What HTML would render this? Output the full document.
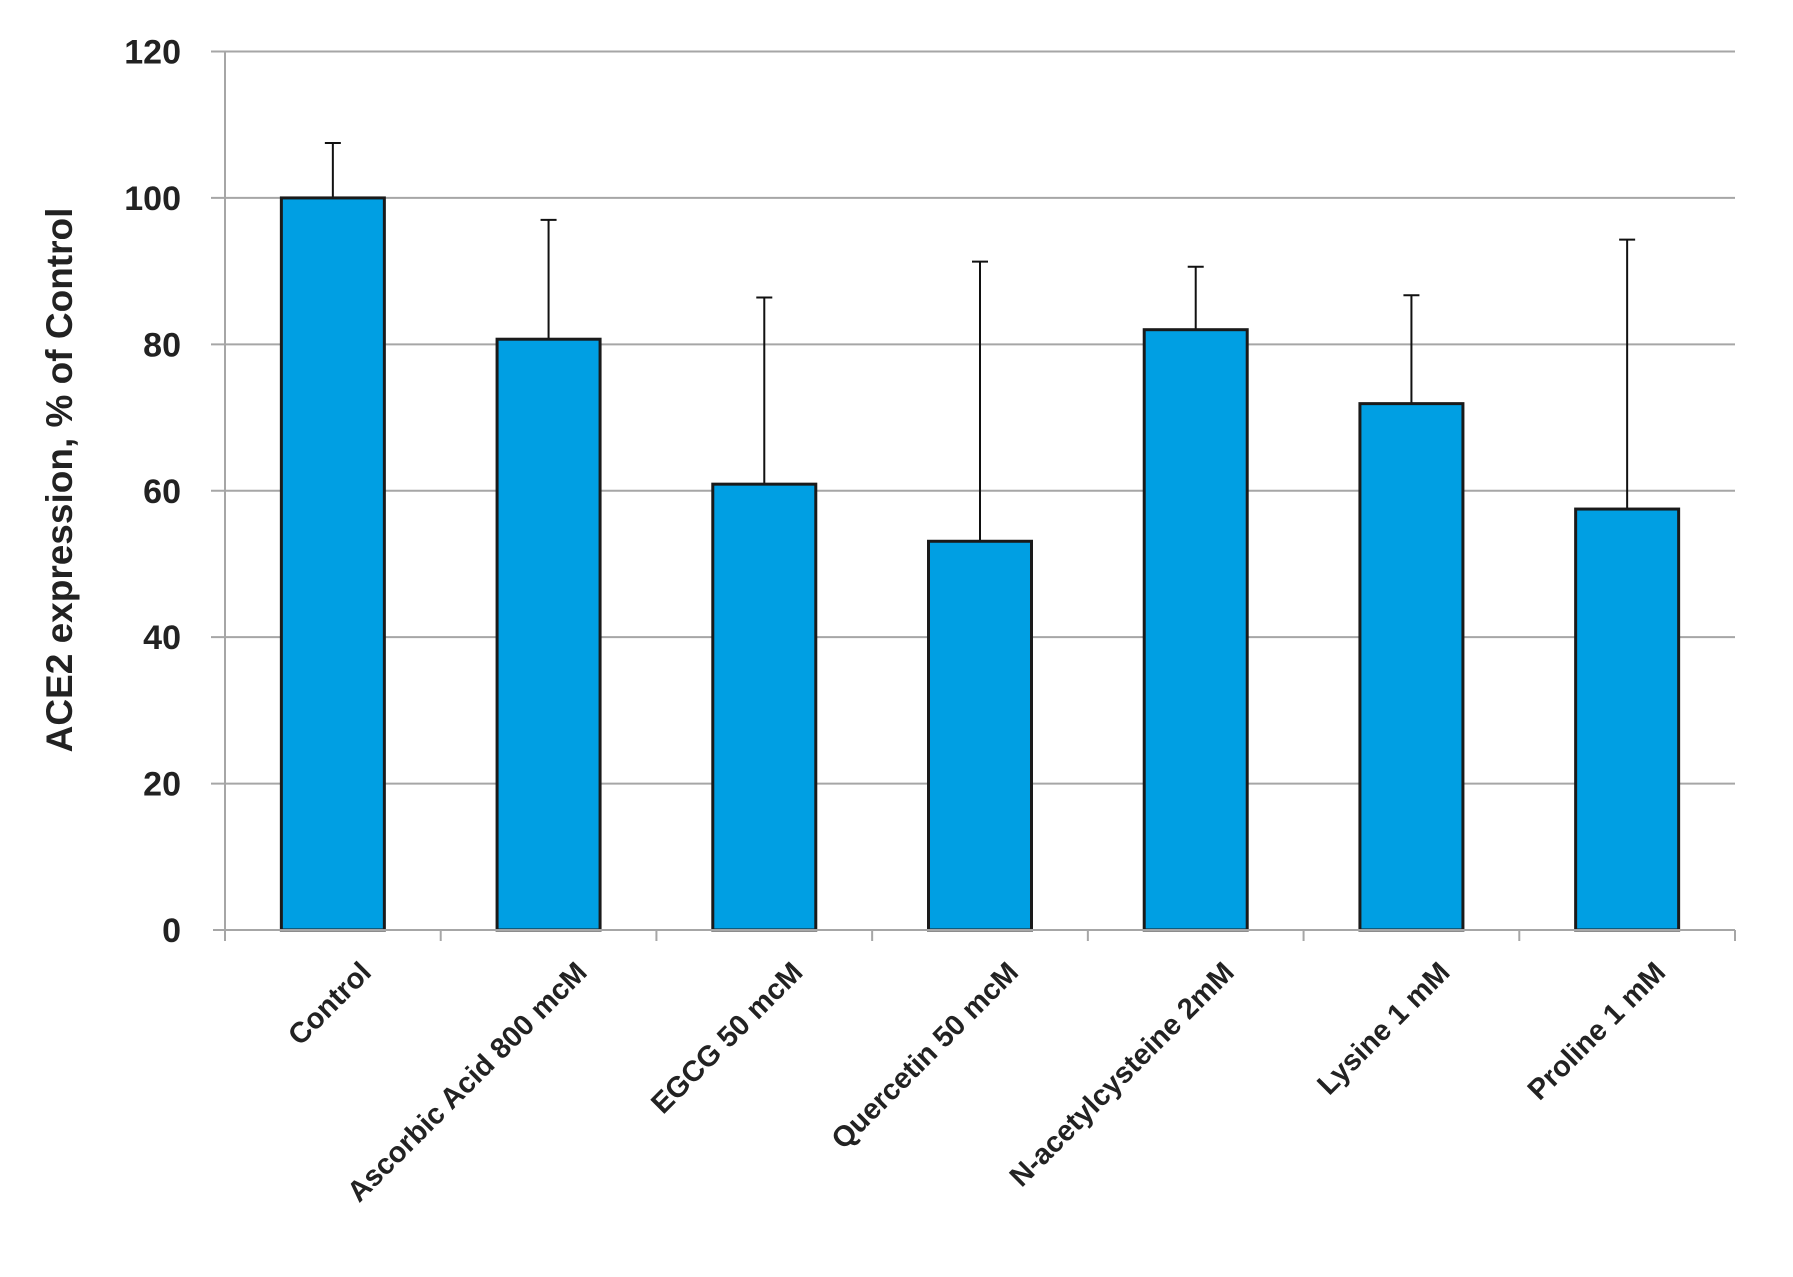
<!DOCTYPE html>
<html><head><meta charset="utf-8"><style>
body{margin:0;background:#fff}
svg{display:block;font-family:"Liberation Sans",sans-serif}
</style></head><body>
<svg id="c" width="1793" height="1277" viewBox="0 0 1793 1277">
<text transform="translate(72,480) rotate(-90)" text-anchor="middle" font-size="37" font-weight="bold" fill="#222">ACE2 expression, % of Control</text>
</svg>
<script>
const categories=["Control","Ascorbic Acid 800 mcM","EGCG 50 mcM","Quercetin 50 mcM","N-acetylcysteine 2mM","Lysine 1 mM","Proline 1 mM"];
const values=[100,80.7,60.9,53.1,82,71.9,57.5];
const errors=[7.5,16.3,25.5,38.2,8.6,14.8,36.8];
const yTicks=[0,20,40,60,80,100,120];
const NS="http://www.w3.org/2000/svg";
const svg=document.getElementById('c');
const L=225,R=1735,T=51.5,B=930,yMax=120;
const y=v=>B-(v/yMax)*(B-T);
const cw=(R-L)/categories.length;
const cx=i=>L+cw*(i+0.5);
const bw=103;
function mk(t,a){const e=document.createElementNS(NS,t);for(const k in a)e.setAttribute(k,a[k]);svg.appendChild(e);return e;}
yTicks.forEach(v=>{
  if(v>0){const g=mk('line',{x1:211,x2:R,y1:y(v),y2:y(v),stroke:'#a6a6a6','stroke-width':2});
  
  }
  const t=mk('text',{x:181,y:y(v)+12,'text-anchor':'end','font-size':34,'font-weight':'bold',fill:'#222'});
  t.textContent=v;
  
  
});
const ya=mk('line',{x1:L,x2:L,y1:T,y2:B,stroke:'#a6a6a6','stroke-width':2});


values.forEach((v,i)=>{
  const top=y(v+errors[i]);
  const e=mk('path',{d:`M${cx(i)},${y(v)}V${top}M${cx(i)-8},${top}H${cx(i)+8}`,stroke:'#111','stroke-width':2,fill:'none'});
  
  
  const b=mk('rect',{x:cx(i)-bw/2,y:y(v),width:bw,height:B-y(v),fill:'#009fe3',stroke:'#1a1a1a','stroke-width':3});
  
  
  const t=mk('text',{'text-anchor':'end','font-size':29,'font-weight':'bold',fill:'#222',transform:`translate(${cx(i)+40},${B+44}) rotate(-45)`});
  t.textContent=categories[i];
  
  
});
const xa=mk('line',{x1:L-12,x2:R,y1:B,y2:B,stroke:'#a6a6a6','stroke-width':2});


for(let i=0;i<=categories.length;i++){
  const tk=mk('line',{x1:L+cw*i,x2:L+cw*i,y1:B,y2:B+11,stroke:'#a6a6a6','stroke-width':2});
  
  
}
</script>
</body></html>
